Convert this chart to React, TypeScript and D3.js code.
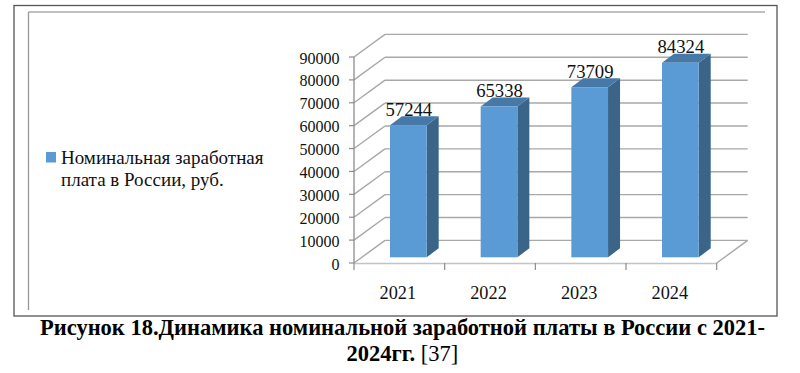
import React from "react";
import * as d3 from "d3";

const years = ["2021", "2022", "2023", "2024"];
const wages = [57244, 65338, 73709, 84324];
const yTicks = [0, 10000, 20000, 30000, 40000, 50000, 60000, 70000, 80000, 90000];
const legendLines = ["Номинальная заработная", "плата в России, руб."];
const captionLine1 = "Рисунок 18.Динамика номинальной заработной платы в России с 2021-";
const captionLine2Bold = "2024гг. ";
const captionLine2Regular = "[37]";

const serif = "'Liberation Serif', 'Times New Roman', serif";
const grid = "#a8a8a8";
const ink = "#111";

export default function App() {
  const x = d3.scaleBand<string>().domain(years).range([354, 716.7]);
  const y = d3.scaleLinear().domain([0, 90000]).range([263, 57]);
  const barY = d3.scaleLinear().domain([0, 90000]).range([257.3, 49.6]);
  const wallDx = 31;
  const wallDy = -22.6;
  const barW = 36.7;
  const depthX = 12;
  const depthY = 9;
  const ticksX = [...years.map((d) => x(d)!), 716.7];

  return (
    <svg
      width={800}
      height={373}
      viewBox="0 0 800 373"
      style={{ position: "absolute", left: 0, top: 0, background: "#fff" }}
      fontFamily={serif}
    >
      {/* outer frame */}
      <rect x={14} y={5.5} width={763} height={310.5} fill="none" stroke="#555" strokeWidth={1.3} />
      <line x1={28.5} y1={12} x2={765} y2={12} stroke="#aaa" strokeWidth={1.3} />
      <line x1={28.5} y1={12} x2={28.5} y2={310} stroke="#999" strokeWidth={1.3} />

      {/* back wall gridlines and side wall */}
      {yTicks.map((t) => (
        <g key={t} stroke={grid} strokeWidth={1.4} fill="none">
          <line x1={354} y1={y(t)} x2={354 + wallDx} y2={y(t) + wallDy} />
          <line x1={354 + wallDx} y1={y(t) + wallDy} x2={716.7 + wallDx} y2={y(t) + wallDy} />
        </g>
      ))}
      <line x1={716.7} y1={263} x2={747.7} y2={y(0) + wallDy} stroke={grid} strokeWidth={1.4} />

      {/* axes */}
      <line x1={354} y1={y(90000)} x2={354} y2={263} stroke="#8c8c8c" strokeWidth={1.3} />
      <line x1={354} y1={263.5} x2={716.7} y2={263.5} stroke="#c4c4c4" strokeWidth={1.4} />
      {yTicks.map((t) => (
        <line key={t} x1={349} y1={y(t)} x2={354} y2={y(t)} stroke="#8c8c8c" strokeWidth={1.2} />
      ))}
      {ticksX.map((t) => (
        <line key={t} x1={t} y1={263} x2={t} y2={270} stroke="#8c8c8c" strokeWidth={1.2} />
      ))}

      {/* y tick labels */}
      {yTicks.map((t) => (
        <text key={t} x={339.5} y={y(t) + 6.5} textAnchor="end" fontSize={16} fill={ink}>
          {t}
        </text>
      ))}

      {/* bars */}
      {wages.map((v, i) => {
        const left = x(years[i])! + (x.bandwidth() - barW) / 2 + 9;
        const right = left + barW;
        const top = barY(v);
        const bottom = barY(0);
        return (
          <g key={years[i]}>
            <polygon
              points={`${right},${top} ${right + depthX},${top - depthY} ${right + depthX},${bottom - depthY} ${right},${bottom}`}
              fill="#3b6489"
            />
            <polygon
              points={`${left},${top} ${left + depthX},${top - depthY} ${right + depthX},${top - depthY} ${right},${top}`}
              fill="#4679a8"
            />
            <rect x={left} y={top} width={barW} height={bottom - top} fill="#5b9bd5" />
            <text x={left + barW / 2 + 0.5} y={top - 9.5} textAnchor="middle" fontSize={18.7} fill={ink}>
              {v}
            </text>
          </g>
        );
      })}

      {/* x labels */}
      {years.map((d) => (
        <text key={d} x={x(d)! + x.bandwidth() / 2 - 1.5} y={298.5} textAnchor="middle" fontSize={18.3} fill={ink}>
          {d}
        </text>
      ))}

      {/* legend */}
      <rect x={46} y={152} width={10} height={10.5} fill="#5b9bd5" />
      {legendLines.map((l, i) => (
        <text key={l} x={61} y={163.5 + i * 22} fontSize={19} fill={ink}>
          {l}
        </text>
      ))}

      {/* caption */}
      <text x={402.5} y={335} textAnchor="middle" fontSize={22.5} fontWeight="bold" fill="#000">
        {captionLine1}
      </text>
      <text x={346.5} y={361} fontSize={22.5} fill="#000">
        <tspan fontWeight="bold">{captionLine2Bold}</tspan>
        <tspan>{captionLine2Regular}</tspan>
      </text>
    </svg>
  );
}
